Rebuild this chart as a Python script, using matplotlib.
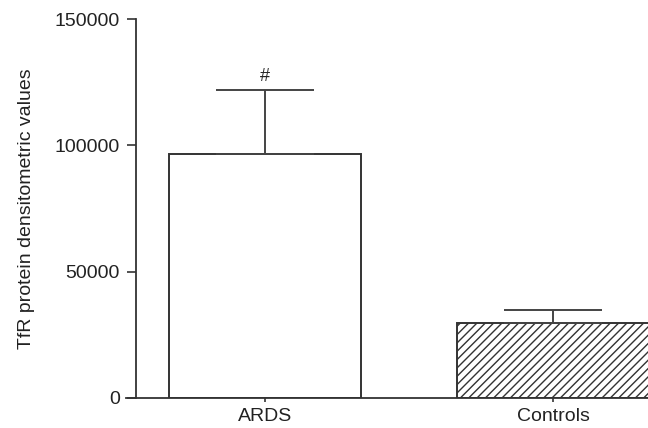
import matplotlib

matplotlib.use("Agg")
import matplotlib.pyplot as plt  # noqa: E402

# Valores
grupos = ["ARDS", "Controls"]
medias = [96500, 29500]
erros = [25500, 5500]
hachuras = ["", "////"]
marcas = ["#", ""]
yticks = [0, 50000, 100000, 150000]

plt.rcParams["font.family"] = ["Liberation Sans", "DejaVu Sans"]
plt.rcParams["hatch.linewidth"] = 1.0
plt.rcParams["hatch.color"] = "#333333"

fig = plt.figure(figsize=(6.48, 4.28), dpi=100)
ax = fig.add_axes([126 / 648, 30 / 428, 522 / 648, 379 / 428])

cor = "#333333"
# spine antes dos ticks (set_position reseta os rótulos)
ax.spines["top"].set_visible(False)
ax.spines["right"].set_visible(False)
ax.spines["left"].set_position(("data", -0.448))

x = list(range(len(grupos)))
for xi, m, h in zip(x, medias, hachuras):
    ax.bar(xi, m, width=0.667, color="white", edgecolor=cor, linewidth=1.4,
           hatch=h or None, zorder=2)
ax.errorbar(x, medias, yerr=[[0] * len(erros), erros], fmt="none",
            ecolor="#444444", elinewidth=1.4, capsize=35, capthick=1.4, zorder=3)
for xi, m, e, t in zip(x, medias, erros, marcas):
    if t:
        ax.text(xi, m + e + 1800, t, ha="center", va="bottom", fontsize=13, color="#222222")

ax.set_xlim(-0.483, 1.3295)
ax.set_ylim(0, 150000)
ax.set_xticks(x)
ax.set_xticklabels(grupos)
ax.set_yticks(yticks)
ax.set_yticklabels([str(v) for v in yticks])
ax.set_ylabel("TfR protein densitometric values", fontsize=14, color="#222222", labelpad=14)

for s in ("left", "bottom"):
    ax.spines[s].set_color(cor)
    ax.spines[s].set_linewidth(1.3)
ax.tick_params(axis="y", length=6.5, width=1.2, color=cor, pad=5,
               labelsize=14, labelcolor="#222222")
ax.tick_params(axis="x", length=3, width=1.2, color=cor, pad=4,
               labelsize=14, labelcolor="#222222")

fig.savefig("out.png", dpi=100, facecolor="white")
